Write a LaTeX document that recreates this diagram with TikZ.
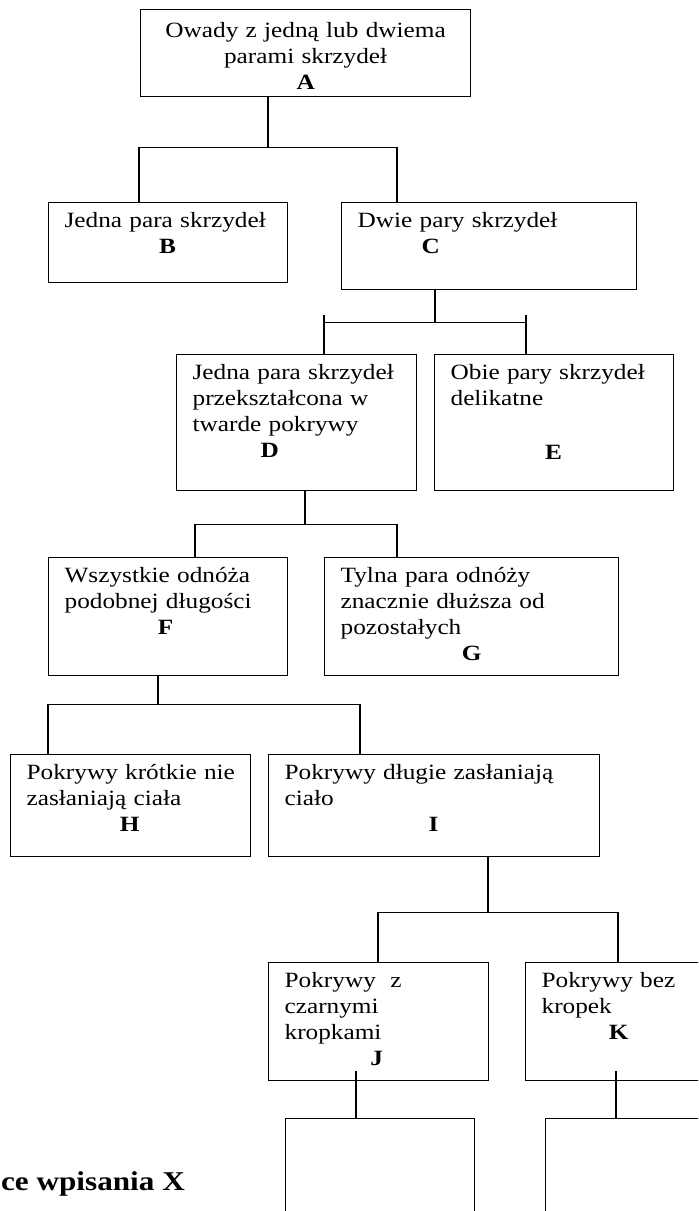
\documentclass[tikz,border=0pt]{standalone}
\usepackage{fontspec}
\setmainfont{Liberation Serif}[FakeStretch=1.16]
\newfontfamily\notefont{Liberation Serif}[FakeStretch=1.15]
\newcommand{\keyletter}[2]{\hspace*{#1}\makebox[0pt]{\textbf{#2}}}

\begin{document}
\begin{tikzpicture}[
  box/.style={draw, line width=0.9pt, anchor=north west, align=left,
              inner xsep=0.4cm, inner ysep=0pt, text height=0.63cm,
              font=\fontsize{15.5pt}{18.5pt}\selectfont},
  answer/.style={draw, line width=0.9pt, anchor=north west, inner sep=0pt,
                 minimum width=4.725cm, minimum height=3cm},
  link/.style={line width=0.9pt},
]
\useasboundingbox (0,0) rectangle (17.45,-30.275);
\clip (0,0) rectangle (17.45,-30.275);

% Root
\node[box, align=center, text width=7.45cm, text height=0.7cm, text depth=1.475cm] (A) at (3.5, -0.225)
  {Owady z jedną lub dwiema\\parami skrzydeł\\\textbf{A}};

% Level 1
\node[box, text width=5.175cm, text depth=1.37cm] (B) at (1.2, -5.05)
  {Jedna~para~skrzydeł\\\keyletter{2.575cm}{B}};
\node[box, text width=6.575cm, text depth=1.545cm] (C) at (8.525, -5.05)
  {Dwie pary skrzydeł\\\keyletter{1.825cm}{C}};
\draw[link] ([xshift=3.2cm]A.south west) -- ++(0,-1.25) coordinate (forkA);
\draw[link] ([xshift=2.275cm]B.north west) |- (forkA) -| ([xshift=1.4cm]C.north west);

% Level 2
\node[box, text width=5.2cm, text depth=2.77cm] (D) at (4.4, -8.85)
  {Jedna~para~skrzydeł\\przekształcona w\\twarde pokrywy\\\keyletter{1.925cm}{D}};
\node[box, text width=5.175cm, text depth=2.77cm] (E) at (10.85, -8.85)
  {Obie~pary~skrzydeł\\delikatne\\[0.7cm]\keyletter{2.575cm}{E}};
\draw[link] ([xshift=2.35cm]C.south west) -- ++(0,-0.8) coordinate (forkC);
\draw[link] ([xshift=3.7cm]D.north west) |- (forkC) -| ([xshift=2.3cm]E.north west);
\draw[link] ([xshift=3.7cm]D.north west) -- ++(0,0.975);
\draw[link] ([xshift=2.3cm]E.north west) -- ++(0,0.975);

% Level 3
\node[box, text width=5.175cm, text depth=2.32cm] (F) at (1.2, -13.925)
  {Wszystkie odnóża\\podobnej~długości\\\keyletter{2.525cm}{F}};
\node[box, text width=6.55cm, text depth=2.32cm] (G) at (8.1, -13.925)
  {Tylna para odnóży\\znacznie dłuższa od\\pozostałych\\\keyletter{3.275cm}{G}};
\draw[link] ([xshift=3.225cm]D.south west) -- ++(0,-0.825) coordinate (forkD);
\draw[link] ([xshift=3.675cm]F.north west) |- (forkD) -| ([xshift=1.825cm]G.north west);

% Level 4
\node[box, text width=5.2cm, text depth=1.92cm] (H) at (0.25, -18.85)
  {Pokrywy~krótkie~nie\\zasłaniają~ciała\\\keyletter{2.575cm}{H}};
\node[box, text width=7.475cm, text depth=1.92cm] (I) at (6.7, -18.85)
  {Pokrywy długie zasłaniają\\ciało\\\keyletter{3.725cm}{I}};
\draw[link] ([xshift=2.75cm]F.south west) -- ++(0,-0.7) coordinate (forkF);
\draw[link] ([xshift=0.95cm]H.north west) |- (forkF) -| ([xshift=2.3cm]I.north west);

% Level 5
\node[box, text width=4.7cm, text depth=2.32cm] (J) at (6.7, -24.05)
  {Pokrywy\ \ z\\czarnymi\\kropkami\\\keyletter{2.3cm}{J}};
\node[box, text width=4.7cm, text depth=2.32cm] (K) at (13.125, -24.05)
  {Pokrywy bez\\kropek\\\keyletter{1.925cm}{K}};
\draw[link] ([xshift=5.5cm]I.south west) -- ++(0,-1.375) coordinate (forkI);
\draw[link] ([xshift=2.75cm]J.north west) |- (forkI) -| ([xshift=2.325cm]K.north west);

% Empty boxes for the answer
\node[answer] (ansJ) at (7.125, -27.95) {};
\node[answer] (ansK) at (13.625, -27.95) {};
\draw[link] ([xshift=2.2cm, yshift=0.25cm]J.south west) -- ([xshift=1.775cm]ansJ.north west);
\draw[link] ([xshift=2.275cm, yshift=0.25cm]K.south west) -- ([xshift=1.775cm]ansK.north west);

% Note
\node[anchor=base west, inner sep=0pt, font=\notefont\fontsize{19.3pt}{22pt}\selectfont\bfseries] (note) at (0.02, -29.75)
  {ce wpisania X};

\end{tikzpicture}
\end{document}
